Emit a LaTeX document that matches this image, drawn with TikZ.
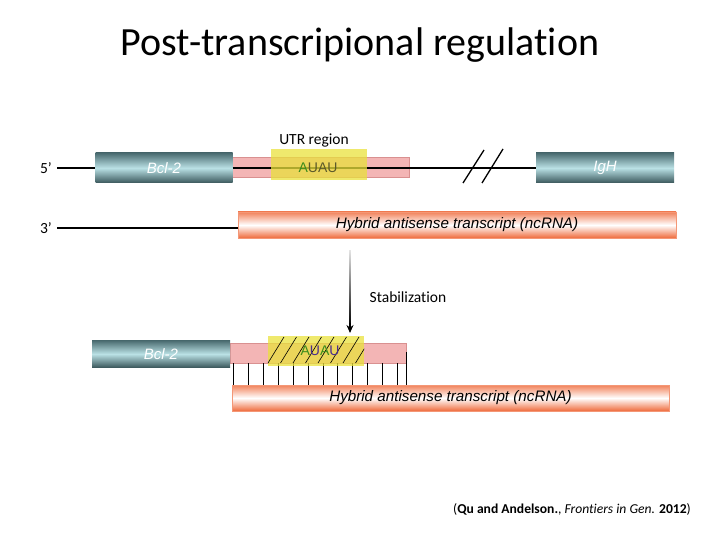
\documentclass[tikz,border=0pt]{standalone}
\usepackage{fontspec}
\setmainfont{Carlito}[Ligatures=NoCommon]
\newfontfamily\arialf{Liberation Sans}
\usetikzlibrary{arrows.meta}
\definecolor{tealdark}{HTML}{4A6B70}
\definecolor{tealbot}{HTML}{3A575B}
\definecolor{teallight}{HTML}{BAE1E5}
\definecolor{orng}{HTML}{EF6B3C}
\definecolor{pinkf}{HTML}{F3B5B5}
\definecolor{pinkd}{HTML}{D99090}
\definecolor{yel}{HTML}{E9E13C}
\definecolor{auagreen}{HTML}{3C8C1C}
\definecolor{auaolive}{HTML}{5C5A2A}
\definecolor{auapurple}{HTML}{4B2E8C}
\begin{document}
\begin{tikzpicture}[x=1pt,y=-1pt,
  genebox/.style={rectangle,inner sep=0pt,top color=tealdark,bottom color=tealbot,middle color=teallight,
    text=white,font=\arialf\itshape\fontsize{15}{17}\selectfont},
  pinkbox/.style={rectangle,inner sep=0pt,fill=pinkf,draw=pinkd,line width=0.6pt},
  yelbox/.style={rectangle,inner sep=0pt,fill=yel,fill opacity=0.75,draw=none},
  hybbox/.style={rectangle,inner sep=0pt,top color=orng!85,bottom color=orng,middle color=white,
    draw=orng!70,line width=0.4pt},
  hybtext/.style={font=\arialf\itshape\fontsize{15.2}{17}\selectfont,inner sep=0pt},
  lbl/.style={font=\fontsize{15.5}{18}\selectfont,inner sep=0pt},
  strand/.style={line width=1.8pt,black},
  tick/.style={line width=0.7pt,black},
  hatch/.style={line width=0.6pt,black}
]
\useasboundingbox (0,0) rectangle (720,540);

% title
\node[font=\fontsize{40}{44}\selectfont,inner sep=0pt] (title) at (360,45) {Post-transcripional regulation};

% ---------- top row ----------
\node[lbl] (utr) at (314,141) {UTR region};
\node[lbl] (p5) at (46,168) {5’};
\coordinate (s5) at (57,168);
\node[pinkbox,minimum width=177pt,minimum height=20pt] (pink1) at (320.5,167) {};
\node[genebox,minimum width=137pt,minimum height=30pt] (bcl1) at (164,168) {Bcl-2};
\node[genebox,minimum width=138pt,minimum height=30pt] (igh) at (605,168) {IgH};
\draw[strand] (s5) -- (bcl1.west);
\draw[strand] (bcl1.east) -- (igh.west);
\node[yelbox,minimum width=96pt,minimum height=31pt] (yel1) at (319,165) {};
\node[font=\arialf\fontsize{14}{16}\selectfont,inner sep=0pt] (aua1) at (318,168)
  {\textcolor{auagreen}{A}\textcolor{auaolive}{UAU}};
% break marks
\coordinate (b1a) at (463,183); \coordinate (b1b) at (484,150);
\coordinate (b2a) at (482,183); \coordinate (b2b) at (503,149);
\draw[line width=1.3pt] (b1a) -- (b1b);
\draw[line width=1.3pt] (b2a) -- (b2b);

% 3' strand and hybrid
\node[lbl] (p3) at (46,228) {3’};
\coordinate (s3) at (57,228);
\node[hybbox,minimum width=438pt,minimum height=26pt] (hyb1) at (457,225) {};
\node[hybtext] (hyb1t) at (457,225) {Hybrid antisense transcript (ncRNA)};
\draw[strand] (s3) -- (hyb1.west |- s3);

% arrow
\coordinate (ar1) at (350,250);
\coordinate (ar2) at (350,333);
\shade[top color=black!10,bottom color=black] (349.1,250) rectangle (350.9,326);
\draw[line width=1.8pt,-{Stealth[length=8pt,width=7pt]}] (350,323) -- (ar2);
\node[lbl] (stab) at (408,297) {Stabilization};

% ---------- bottom row ----------
\node[pinkbox,minimum width=176pt,minimum height=20pt] (pink2) at (318,353) {};
\node[genebox,minimum width=138pt,minimum height=27pt] (bcl2) at (161,354) {Bcl-2};
\node[hybbox,minimum width=437pt,minimum height=26pt] (hyb2) at (450.5,398) {};
\node[hybtext] (hyb2t) at (450.5,398) {Hybrid antisense transcript (ncRNA)};
% base pairing ticks
\foreach \x in {233,248,263,278,293,308,323,337,352,367,382,397} {
  \draw[tick] (\x,363) -- (\x,385);
}
\draw[tick] (406,352) -- (406,385);
\node[yelbox,minimum width=96pt,minimum height=30pt] (yel2) at (316,351) {};
\begin{scope}
  \clip (yel2.north west) rectangle (yel2.south east);
  \foreach \k in {0,...,7} {
    \draw[hatch] ({268+12.5*\k},363) -- ({284+12.5*\k},337);
  }
\end{scope}
\node[font=\arialf\fontsize{14}{16}\selectfont,inner sep=0pt] (aua2) at (320,351)
  {\textcolor{auagreen}{A}\textcolor{auapurple}{U}\textcolor{auagreen}{A}\textcolor{auapurple}{U}};

% citation
\node[font=\fontsize{13.6}{16}\selectfont,inner sep=0pt] (cite) at (572,509)
  {(\textbf{Qu and Andelson.}, \textit{Frontiers in Gen.} \textbf{2012})};
\end{tikzpicture}
\end{document}
